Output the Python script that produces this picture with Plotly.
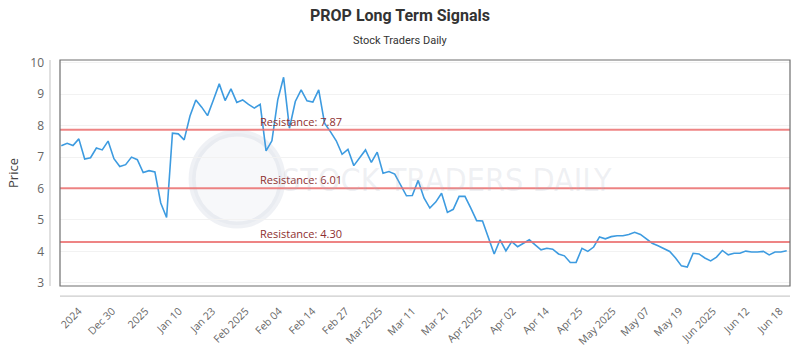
import plotly.graph_objects as go

prices = [7.36, 7.44, 7.37, 7.58, 6.94, 6.98, 7.29, 7.23, 7.51, 6.95,
          6.70, 6.76, 7.00, 6.92, 6.51, 6.57, 6.53, 5.54, 5.08, 7.76,
          7.74, 7.55, 8.31, 8.82, 8.59, 8.32, 8.82, 9.33, 8.80, 9.17,
          8.74, 8.82, 8.68, 8.56, 8.68, 7.20, 7.52, 8.82, 9.54, 7.92,
          8.77, 9.14, 8.79, 8.75, 9.14, 8.08, 7.81, 7.52, 7.09, 7.25,
          6.73, 6.99, 7.23, 6.83, 7.16, 6.49, 6.54, 6.46, 6.12, 5.77,
          5.78, 6.26, 5.70, 5.38, 5.57, 5.85, 5.24, 5.34, 5.75, 5.75,
          5.38, 4.98, 4.97, 4.45, 3.92, 4.37, 4.02, 4.31, 4.15, 4.26,
          4.37, 4.21, 4.05, 4.10, 4.07, 3.92, 3.86, 3.65, 3.65, 4.10,
          4.00, 4.14, 4.46, 4.40, 4.47, 4.50, 4.50, 4.54, 4.61, 4.54,
          4.39, 4.26, 4.18, 4.10, 4.00, 3.79, 3.54, 3.50, 3.94, 3.92,
          3.79, 3.70, 3.82, 4.03, 3.89, 3.94, 3.94, 4.01, 3.98, 3.98,
          4.00, 3.89, 3.98, 3.98, 4.02]

tick_labels = ["2024", "Dec 30", "2025", "Jan 10", "Jan 23", "Feb 2025", "Feb 04",
               "Feb 14", "Feb 27", "Mar 2025", "Mar 11", "Mar 21", "Apr 2025",
               "Apr 02", "Apr 14", "Apr 25", "May 2025", "May 07", "May 19",
               "Jun 2025", "Jun 12", "Jun 18"]

resistance_levels = [7.87, 6.01, 4.30]

x_idx = list(range(len(prices)))
first_tick, last_tick = 3.0, len(prices) - 1 - 1.2
tick_step = (last_tick - first_tick) / (len(tick_labels) - 1)
tickvals = [first_tick + k * tick_step for k in range(len(tick_labels))]

fig = go.Figure()
fig.add_trace(go.Scatter(x=x_idx, y=prices, mode="lines",
                         line=dict(color="#3d9be0", width=1.6),
                         hoverinfo="y", showlegend=False))

for lvl in resistance_levels:
    fig.add_hline(y=lvl, line=dict(color="rgba(235,110,110,0.85)", width=2), layer="above")
    fig.add_annotation(x=33.7, y=lvl, xref="x", yref="y", text=f"Resistance: {lvl:.2f}",
                       showarrow=False, xanchor="left", yanchor="bottom", yshift=-1,
                       font=dict(family="Open Sans", size=11, color="#8e2f2f"))

# watermark
fig.add_annotation(x=0.53, y=0.47, xref="paper", yref="paper", text="STOCK TRADERS DAILY",
                   showarrow=False, font=dict(family="DejaVu Sans Condensed", size=32,
                                              color="rgba(170,180,195,0.2)"))
fig.add_shape(type="circle", xref="paper", yref="paper", x0=0.181, x1=0.304, y0=0.27, y1=0.677,
              line=dict(color="rgba(190,200,215,0.25)", width=7),
              fillcolor="rgba(215,222,232,0.2)", layer="below")

# plot frame and offset axis lines
fig.add_shape(type="rect", xref="paper", yref="paper", x0=0, x1=1, y0=0, y1=1,
              line=dict(color="#6e6e6e", width=1.2), layer="above")
fig.add_shape(type="line", xref="paper", yref="paper", x0=0, x1=1, y0=-0.045, y1=-0.045,
              line=dict(color="#cccccc", width=1.2))
fig.add_shape(type="line", xref="paper", yref="paper", x0=-0.0137, x1=-0.0137, y0=0, y1=1,
              line=dict(color="#cccccc", width=1.2))

fig.update_layout(
    width=800, height=350,
    margin=dict(l=60, r=10, t=60, b=64, autoexpand=False),
    paper_bgcolor="white", plot_bgcolor="white",
    title=dict(text="<b>PROP Long Term Signals</b>", x=0.5, xanchor="center", y=0.955, yanchor="middle",
               font=dict(family="Roboto", size=16, color="#333333")),
    xaxis=dict(range=[-0.22, len(prices) - 1 + 0.56], tickmode="array", tickvals=tickvals,
               ticktext=tick_labels, tickangle=-45, showgrid=False, zeroline=False,
               showline=False, ticks="", ticklabelstandoff=16, automargin=False,
               tickfont=dict(family="Open Sans", size=10.5, color="#666666")),
    yaxis=dict(range=[2.9, 10.09], tickmode="array", tickvals=list(range(3, 11)),
               showgrid=True, gridcolor="#f2f2f2", zeroline=False, showline=False, ticks="",
               ticklabelstandoff=15, automargin=False,
               tickfont=dict(family="Open Sans", size=12, color="#666666"),
               title=dict(text="Price", standoff=8, font=dict(family="Open Sans", size=13, color="#444444"))),
)
fig.add_annotation(x=(400 - 60) / 730, y=1 + (60 - 40) / 226, xref="paper", yref="paper",
                   text="Stock Traders Daily", showarrow=False, yanchor="middle",
                   font=dict(family="Roboto", size=11, color="#333333"))

fig.write_html("out.html")
